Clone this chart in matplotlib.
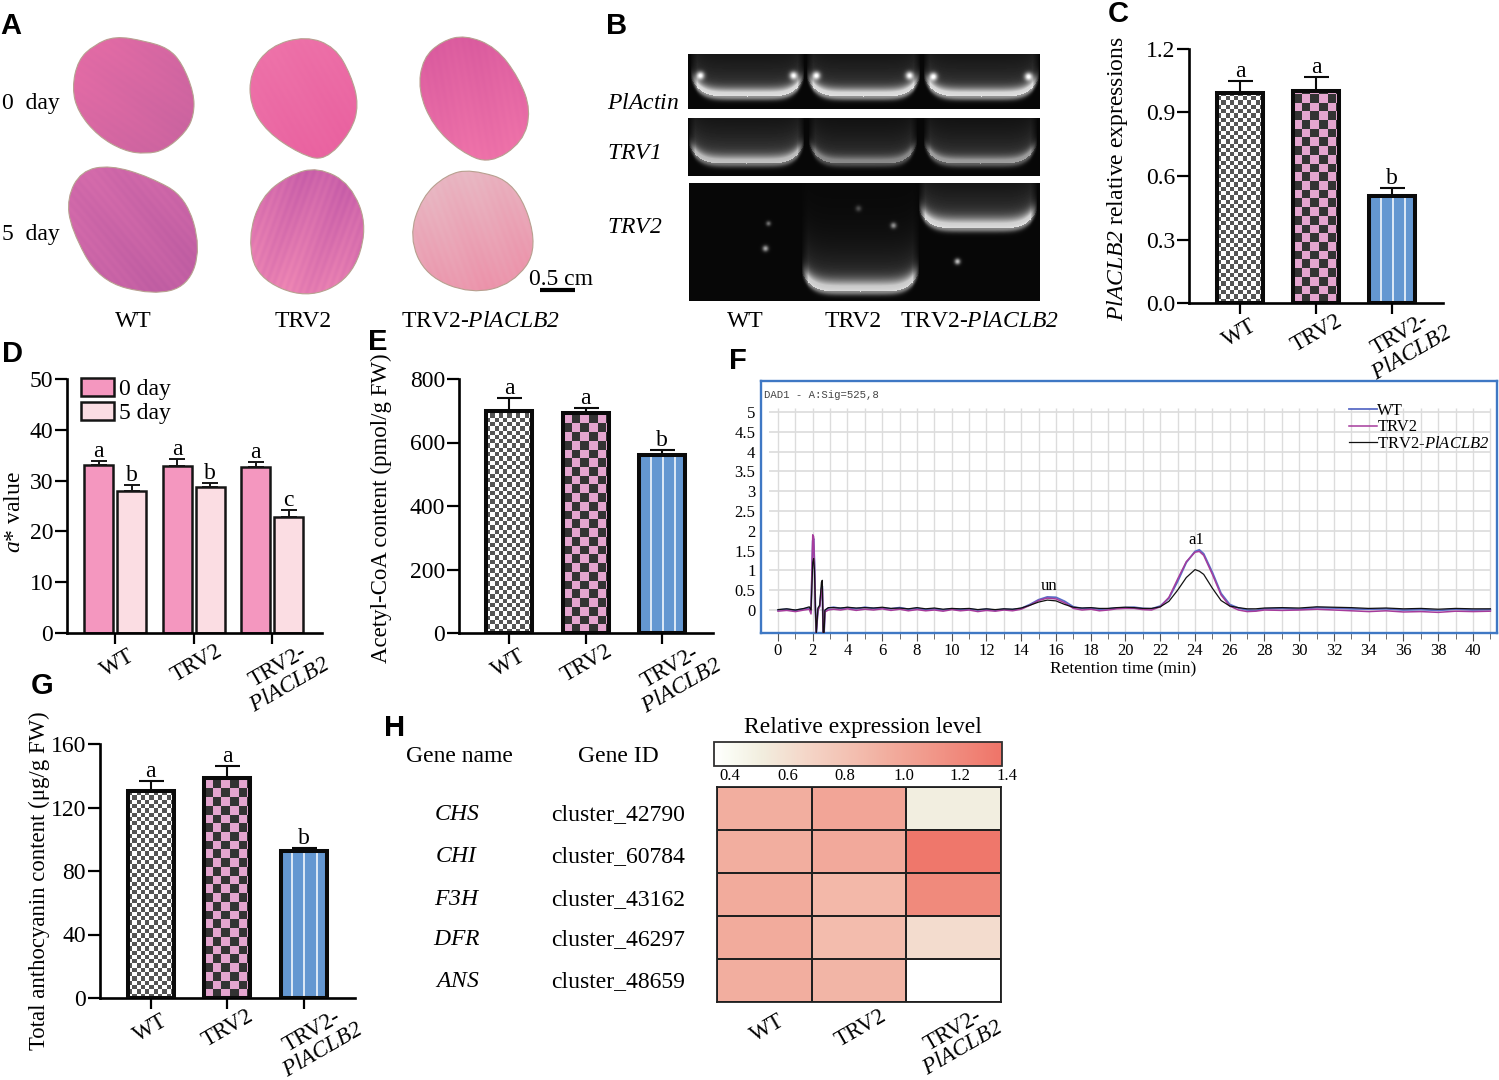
import numpy as np
import matplotlib
matplotlib.use('Agg')
import matplotlib.pyplot as plt
from matplotlib.colors import LinearSegmentedColormap
from matplotlib.patches import PathPatch
from matplotlib.path import Path

W, H = 1499, 1080

plt.rcParams['font.family'] = ['Liberation Serif', 'DejaVu Serif']
plt.rcParams['mathtext.fontset'] = 'custom'
plt.rcParams['mathtext.rm'] = 'Liberation Serif'
plt.rcParams['mathtext.it'] = 'Liberation Serif:italic'
plt.rcParams['mathtext.cal'] = 'Liberation Serif:italic'  # \mathcal keeps digits italic too
plt.rcParams['mathtext.default'] = 'regular'

# bar panels
groups = ['WT', 'TRV2', 'TRV2-\n$\\mathcal{PlACLB2}$']
mutant_name = 'TRV2-$\\mathcal{PlACLB2}$'
expr_values = [0.99, 1.0, 0.505]
expr_errors = [0.06, 0.07, 0.04]
expr_letters = ['a', 'a', 'b']
acetyl_values = [698, 693, 560]
acetyl_errors = [43, 15, 16]
acetyl_letters = ['a', 'a', 'b']
antho_values = [130.6, 138.6, 92.3]
antho_errors = [6.4, 7.7, 2.3]
antho_letters = ['a', 'a', 'b']
a_day0 = [33.0, 32.8, 32.7]
a_day0_err = [0.9, 1.4, 0.9]
a_day0_letters = ['a', 'a', 'a']
a_day5 = [28.0, 28.8, 22.8]
a_day5_err = [1.2, 0.8, 1.4]
a_day5_letters = ['b', 'b', 'c']

# chromatogram
rt = [0, 0.5, 1, 1.5, 1.8, 1.9, 2.0, 2.05, 2.1, 2.15, 2.2, 2.3, 2.4, 2.5, 2.55, 2.6, 2.65, 2.7, 2.9,
      3.2, 3.6, 4, 4.5, 5, 5.5, 6, 6.5, 7, 7.5, 8, 8.5, 9, 9.5, 10, 10.5, 11, 11.5, 12, 12.5, 13, 13.5,
      14, 14.5, 15, 15.5, 16, 16.5, 17, 17.5, 18, 18.5, 19, 19.5, 20, 20.5, 21, 21.5, 22, 22.5, 23,
      23.5, 24, 24.25, 24.5, 25, 25.5, 26, 26.5, 27, 27.5, 28, 29, 30, 31, 32, 33, 34, 35, 36, 37, 38,
      39, 40, 41]
wt_signal = [0.0, 0.02, -0.01, 0.03, 0.05, -0.05, 1.75, 1.8, 1.2, 0.1, -0.6, 0.02, 0.1, 0.55, 0.6, -0.6, -0.6, -0.02, 0.05,
             0.07, 0.04, 0.06, 0.03, 0.07, 0.04, 0.05, 0.03, 0.06, 0.02, 0.04, 0.01, 0.03, 0.0, 0.03, 0.01, 0.02, 0.0, 0.02, -0.01, 0.02, 0.01,
             0.04, 0.14, 0.26, 0.33, 0.32, 0.22, 0.08, 0.04, 0.05, 0.02, 0.03, 0.05, 0.06, 0.07, 0.04, 0.03, 0.1, 0.3, 0.72,
             1.2, 1.48, 1.52, 1.42, 0.95, 0.42, 0.14, 0.05, 0.0, -0.01, 0.03, 0.04, 0.02, 0.06, 0.05, 0.03, 0.02, 0.03, 0.0, 0.01, -0.01,
             0.02, 0.0, 0.01]
trv2_signal = [-0.03, -0.01, -0.04, 0.0, 0.02, -0.1, 1.9, 1.85, 1.1, 0.05, -0.6, 0.0, 0.08, 0.5, 0.55, -0.6, -0.6, -0.05, 0.0,
               0.02, 0.0, 0.03, -0.01, 0.02, 0.0, 0.03, -0.01, 0.02, -0.02, 0.01, -0.02, 0.0, -0.03, 0.01, -0.02, 0.0, -0.04, -0.01, -0.03, 0.0, -0.02,
               0.02, 0.12, 0.24, 0.3, 0.28, 0.18, 0.04, 0.0, 0.02, -0.02, 0.0, 0.03, 0.04, 0.04, 0.01, 0.0, 0.08, 0.32, 0.78,
               1.22, 1.46, 1.48, 1.38, 0.9, 0.38, 0.1, 0.0, -0.04, -0.03, 0.0, -0.01, 0.0, 0.02, 0.0, -0.02, -0.04, -0.02, -0.05, -0.04, -0.06,
               -0.03, -0.04, -0.03]
mutant_signal = [0.01, 0.03, 0.0, 0.04, 0.08, 0.0, 1.2, 1.3, 1.0, 0.1, -0.6, 0.05, 0.12, 0.7, 0.75, -0.6, -0.6, 0.0, 0.06,
                 0.06, 0.05, 0.07, 0.05, 0.06, 0.05, 0.07, 0.04, 0.05, 0.03, 0.06, 0.03, 0.05, 0.02, 0.04, 0.03, 0.04, 0.01, 0.03, 0.01, 0.03, 0.02,
                 0.05, 0.12, 0.2, 0.25, 0.23, 0.14, 0.07, 0.05, 0.06, 0.04, 0.04, 0.06, 0.07, 0.06, 0.04, 0.04, 0.08, 0.22, 0.5,
                 0.82, 1.02, 0.98, 0.9, 0.55, 0.24, 0.1, 0.06, 0.03, 0.03, 0.05, 0.06, 0.05, 0.08, 0.07, 0.06, 0.04, 0.05, 0.03, 0.04, 0.02,
                 0.04, 0.03, 0.03]
rt_labels = list(range(0, 41, 2))
signal_ticks = [0, 0.5, 1, 1.5, 2, 2.5, 3, 3.5, 4, 4.5, 5]
signal_labels = ['0', '0.5', '1', '1.5', '2', '2.5', '3', '3.5', '4', '4.5', '5']

# heatmap
genes = ['CHS', 'CHI', 'F3H', 'DFR', 'ANS']
gene_ids = ['cluster_42790', 'cluster_60784', 'cluster_43162', 'cluster_46297', 'cluster_48659']
heat_wt = [1.0, 1.0, 1.02, 1.02, 1.0]
heat_trv2 = [1.06, 1.03, 0.93, 0.9, 0.95]
heat_mutant = [0.56, 1.38, 1.25, 0.68, 0.4]
cbar_labels = ['0.4', '0.6', '0.8', '1.0', '1.2', '1.4']


def add_axes_px(left, right, top, bottom):
    return fig.add_axes([left / W, 1 - bottom / H, (right - left) / W, (bottom - top) / H])


def txt(x, y, s, size=17, **kw):
    kw.setdefault('ha', 'center')
    kw.setdefault('va', 'center')
    if 'rotation' not in kw:
        y = y + 1.5
    return fig.text(x / W, 1 - y / H, s, fontsize=size, **kw)


def smooth_outline(xs, ys):
    # closed quadratic curve through the midpoints of the hand read outline
    pts = np.column_stack([xs, ys])
    mids = (pts + np.roll(pts, -1, axis=0)) / 2
    verts = [mids[-1]]
    codes = [Path.MOVETO]
    for p, m in zip(pts, mids):
        verts += [p, m]
        codes += [Path.CURVE3, Path.CURVE3]
    return Path(verts, codes)


def petal(xs, ys, col_a, col_b, angle, stripe=0.04):
    x0, x1, y0, y1 = min(xs), max(xs), min(ys), max(ys)
    X, Y = np.meshgrid(np.arange(x0, x1 + 1), np.arange(y0, y1 + 1))
    a = np.radians(angle)
    u = (X - x0) / (x1 - x0) * np.cos(a) + (Y - y0) / (y1 - y0) * np.sin(a)
    v = -(X - x0) * np.sin(a) + (Y - y0) * np.cos(a)
    u = (u - u.min()) / (u.max() - u.min())
    u = u + stripe * np.sin(v / 1.1) + stripe * np.sin(v / 7.0)
    u = np.clip(u, 0, 1)[..., None]
    a_rgb = np.array(matplotlib.colors.to_rgb(col_a))
    b_rgb = np.array(matplotlib.colors.to_rgb(col_b))
    img = a_rgb * (1 - u) + b_rgb * u
    im = bg.imshow(img, extent=[x0, x1, y1, y0], aspect='auto', zorder=1)
    patch = PathPatch(smooth_outline(xs, ys), facecolor='none', edgecolor='#b8a090', lw=0.8, zorder=2)
    bg.add_patch(patch)
    im.set_clip_path(patch)


def gel_band(img, X, Y, x0, x1, yb, peak, sig, haze):
    c = (x0 + x1) / 2
    hw = (x1 - x0) / 2
    win = np.clip((hw - np.abs(X - c)) / 7 + 1, 0, 1)
    bottom = yb - 9 * np.abs((X - c) / hw) ** 6
    d = Y - bottom
    band = np.where(d > 0, np.exp(-(d / 4.0) ** 2), np.clip(1.3 * np.exp(-(d / sig) ** 2), 0, 1))
    glow = np.where(d > 0, 0, haze * np.exp(d / 26.0))
    img += win * (peak * band + glow)


def gel(left, right, top, bottom, lanes, spots):
    X, Y = np.meshgrid(np.arange(left, right), np.arange(top, bottom))
    img = np.full(X.shape, 0.03)
    for x0, x1, yb, peak, sig, haze in lanes:
        gel_band(img, X, Y, x0, x1, yb, peak, sig, haze)
    for sx, sy, sp, sr in spots:
        img += sp * np.exp(-((X - sx) ** 2 + (Y - sy) ** 2) / sr ** 2)
    bg.imshow(np.clip(img, 0, 1), cmap='gray', vmin=0, vmax=1, extent=[left, right, bottom, top],
              aspect='auto', zorder=1)


def cat_label(ax, i, text, dy, dx=0, size=16.5):
    ax.annotate(text, xy=(i, 0), xycoords=('data', 'axes fraction'), xytext=(dx, dy), textcoords='offset pixels',
                ha='center', va='center', rotation=30, fontsize=size, linespacing=1.05, annotation_clip=False)


def style_axes(ax, yticks, size=17):
    for s in ['top', 'right']:
        ax.spines[s].set_visible(False)
    ax.spines['left'].set_linewidth(1.9)
    ax.spines['bottom'].set_linewidth(1.9)
    ax.set_yticks(yticks)
    ax.tick_params(axis='y', length=9, width=1.6, labelsize=size, pad=1)
    ax.tick_params(axis='x', length=8, width=1.6, labelbottom=False)
    ax.set_xticks([0, 1, 2])
    ax.patch.set_alpha(0)


def pattern_bar(ax, bar, kind, px_per_x, px_per_y):
    x = bar.get_x()
    w = bar.get_width()
    h = bar.get_height()
    if kind == 'stripe':
        ax.bar(x + w / 2, h, width=w, color='#6497d1', zorder=1)
        ax.vlines([x + w * 0.26, x + w * 0.52, x + w * 0.79], 0, h, color='white', lw=1.1, zorder=2)
        return
    cell, light, dark = (4.3, '#ffffff', '#555555') if kind == 'fine' else (8.7, '#e4a5cf', '#333333')
    nx, ny = int(np.ceil(w * px_per_x / cell)), int(np.ceil(h * px_per_y / cell))
    jj, ii = np.meshgrid(np.arange(nx), np.arange(ny))
    rgb = np.where(((ii + jj) % 2)[..., None] == 0, matplotlib.colors.to_rgb(light), matplotlib.colors.to_rgb(dark))
    im = ax.imshow(rgb, extent=[x, x + nx * cell / px_per_x, 0, ny * cell / px_per_y], origin='lower', aspect='auto',
                   interpolation='nearest', zorder=1)
    im.set_clip_path(bar)


def single_panel(left, right, top, bottom, x_first, spacing, ymax, yticks, ticklabels, values, errors, letters, third_dy):
    ax = add_axes_px(left, right, top, bottom)
    ax.set_ylim(0, ymax)
    xlim = ((left - x_first) / spacing, (right - x_first) / spacing)
    bars = ax.bar([0, 1, 2], values, width=46 / spacing, facecolor='none', edgecolor='#0a0a0a', linewidth=2.9, zorder=3)
    ax.errorbar([0, 1, 2], values, yerr=[[0, 0, 0], errors], fmt='none', ecolor='#0a0a0a', elinewidth=1.5,
                capsize=9, capthick=1.5, zorder=2)
    ppy = (bottom - top) / ymax
    for bar, kind in zip(bars, ['fine', 'coarse', 'stripe']):
        pattern_bar(ax, bar, kind, spacing, ppy)
    ax.set_xlim(*xlim)
    ax.set_ylim(0, ymax)
    style_axes(ax, yticks)
    ax.set_yticklabels(ticklabels)
    for i, (v, e, l) in enumerate(zip(values, errors, letters)):
        ax.annotate(l, xy=(i, v + e), xytext=(0, -1), textcoords='offset pixels', ha='center', va='bottom', fontsize=17)
    cat_label(ax, 0, groups[0], -30)
    cat_label(ax, 1, groups[1], -30, dx=1)
    cat_label(ax, 2, groups[2], third_dy, dx=14)
    return ax


fig = plt.figure(figsize=(W / 100, H / 100), dpi=100, facecolor='white')

# background layer in image pixels for the photos and gels
bg = fig.add_axes([0, 0, 1, 1], zorder=-1)
bg.set_xlim(0, W)
bg.set_ylim(H, 0)
bg.axis('off')

# panel A petals
petal([115, 145, 168, 182, 194, 194, 186, 165, 146, 124, 98, 78, 72, 78, 94],
      [36, 41, 48, 63, 93, 115, 132, 150, 154, 151, 136, 112, 88, 60, 45],
      '#e56ca6', '#c9639f', 35)
petal([306, 335, 351, 359, 351, 325, 300, 267, 250, 250, 270],
      [36, 47, 75, 105, 132, 161, 154, 132, 105, 73, 46],
      '#ee74aa', '#e9609f', 60)
petal([465, 496, 519, 531, 523, 490, 461, 433, 418, 423, 442],
      [35, 47, 78, 110, 142, 164, 152, 126, 90, 58, 41],
      '#d95a9e', '#f074aa', 80)
petal([110, 150, 186, 201, 188, 153, 99, 71, 67, 81],
      [165, 177, 197, 248, 286, 295, 281, 229, 198, 171],
      '#d46bab', '#bf5da2', 50, stripe=0.1)
petal([318, 351, 368, 351, 306, 257, 248, 261, 289],
      [167, 184, 228, 279, 299, 278, 238, 197, 175],
      '#c65ca8', '#ee86b4', 110, stripe=0.08)
petal([471, 517, 539, 513, 471, 426, 409, 422, 446],
      [169, 183, 248, 284, 294, 276, 237, 197, 175],
      '#e8bcc6', '#ec8fa8', 70, stripe=0.04)
txt(2, 102, '0  day', ha='left')
txt(2, 233, '5  day', ha='left')
txt(133, 320, 'WT')
txt(303, 320, 'TRV2')
txt(480, 320, mutant_name)
txt(561, 278, '0.5 cm')
bg.plot([540, 575], [290, 290], color='black', lw=3, solid_capstyle='butt', zorder=3)

# panel B gels
gel(688, 1040, 54, 109,
    [(697, 797, 96, 0.55, 8, 0.3), (813, 913, 96, 0.55, 8, 0.3), (930, 1032, 96, 0.55, 8, 0.3)],
    [(700, 75, 0.8, 4), (793, 75, 0.8, 4), (816, 75, 0.8, 4), (909, 75, 0.8, 4), (933, 76, 0.8, 4), (1028, 76, 0.8, 4)])
gel(688, 1040, 118, 176,
    [(695, 797, 163, 0.42, 8, 0.32), (815, 910, 163, 0.28, 7, 0.24), (930, 1030, 163, 0.34, 7, 0.26)], [])
gel(689, 1040, 183, 301,
    [(808, 912, 291, 0.5, 11, 0.32), (925, 1030, 228, 0.5, 10, 0.34)],
    [(768, 223, 0.4, 2.5), (765, 248, 0.6, 3), (858, 208, 0.25, 3), (893, 225, 0.5, 3), (957, 261, 0.7, 3)])
txt(607, 102, '$\\mathcal{PlActin}$', ha='left')
txt(607, 152, '$\\mathcal{TRV1}$', ha='left')
txt(607, 226, '$\\mathcal{TRV2}$', ha='left')
txt(745, 320, 'WT')
txt(853, 320, 'TRV2')
txt(979, 320, mutant_name)

# panel C
ax_c = single_panel(1189, 1443, 49, 303, 1240, 76, 1.2, [0, 0.3, 0.6, 0.9, 1.2],
                    ['0.0', '0.3', '0.6', '0.9', '1.2'], expr_values, expr_errors, expr_letters, -41)
txt(1118, 179, '$\\mathcal{PlACLB2}$ relative expressions', rotation=90)

# panel E
ax_e = single_panel(459, 713, 379, 633, 509, 76.5, 800, [0, 200, 400, 600, 800],
                    ['0', '200', '400', '600', '800'], acetyl_values, acetyl_errors, acetyl_letters, -44)
txt(381, 508, 'Acetyl-CoA content (pmol/g FW)', size=16.5, rotation=90)

# panel G
ax_g = single_panel(100, 355, 744, 998, 150.5, 76.5, 160, [0, 40, 80, 120, 160],
                    ['0', '40', '80', '120', '160'], antho_values, antho_errors, antho_letters, -43)
txt(39, 881, 'Total anthocyanin content (\u03bcg/g FW)', size=16.4, rotation=90)

# panel D
ax_d = add_axes_px(67, 322, 379, 633)
x_pos = np.arange(3)
bar_w = 29 / 78.5
off = 16.5 / 78.5
bars0 = ax_d.bar(x_pos - off, a_day0, width=bar_w, color='#f497bf', edgecolor='#151515', linewidth=1.8, label='0 day')
bars5 = ax_d.bar(x_pos + off, a_day5, width=bar_w, color='#fbdde3', edgecolor='#151515', linewidth=1.8, label='5 day')
ax_d.errorbar(x_pos - off, a_day0, yerr=[[0, 0, 0], a_day0_err], fmt='none', ecolor='#151515', elinewidth=1.4,
              capsize=5.5, capthick=1.4)
ax_d.errorbar(x_pos + off, a_day5, yerr=[[0, 0, 0], a_day5_err], fmt='none', ecolor='#151515', elinewidth=1.4,
              capsize=5.5, capthick=1.4)
for i in range(3):
    ax_d.annotate(a_day0_letters[i], xy=(i - off, a_day0[i] + a_day0_err[i]), xytext=(0, -1), textcoords='offset pixels',
                  ha='center', va='bottom', fontsize=17)
    ax_d.annotate(a_day5_letters[i], xy=(i + off, a_day5[i] + a_day5_err[i]), xytext=(0, -1), textcoords='offset pixels',
                  ha='center', va='bottom', fontsize=17)
ax_d.set_xlim((67 - 115) / 78.5, (322 - 115) / 78.5)
ax_d.set_ylim(0, 50)
style_axes(ax_d, [0, 10, 20, 30, 40, 50])
ax_d.legend(handles=[bars0, bars5], loc='upper left', bbox_to_anchor=(81 / W, 1 - 378 / H), bbox_transform=fig.transFigure,
            frameon=False, fontsize=17, handlelength=1.4, handleheight=0.8, labelspacing=0.08, handletextpad=0.2,
            borderpad=0, borderaxespad=0)
cat_label(ax_d, 0, groups[0], -30, dx=3)
cat_label(ax_d, 1, groups[1], -30, dx=3)
cat_label(ax_d, 2, groups[2], -43, dx=12)
txt(14, 512, '$\\mathit{a}$* value', rotation=90)

# panel F
ax_f = add_axes_px(761, 1497, 381, 633)
ax_f.set_xlim((761 - 778) / 17.375, (1497 - 778) / 17.375)
ax_f.set_ylim((610 - 633) / 39.6, (610 - 381) / 39.6)
ax_f.vlines(np.arange(0, 42), -0.58, 5.1, color='#dcdcdc', lw=1.0, zorder=1)
ax_f.hlines(signal_ticks, -0.5, 41, color='#dcdcdc', lw=1.2, zorder=1)
ax_f.plot(rt, wt_signal, color='#5a6cc6', lw=1.3, label='WT', zorder=3)
ax_f.plot(rt, trv2_signal, color='#a63c9c', lw=1.1, label='TRV2', zorder=3)
ax_f.plot(rt, mutant_signal, color='#111111', lw=0.9, label=mutant_name, zorder=4)
for s in ax_f.spines.values():
    s.set_color('#3f78c4')
    s.set_linewidth(1.7)
ax_f.set_xticks(rt_labels)
ax_f.set_xticklabels([str(v) for v in rt_labels])
ax_f.set_xticks(np.arange(0, 42), minor=True)
ax_f.tick_params(axis='x', which='major', length=6, width=0.8, labelsize=12, pad=1, color='#555555')
ax_f.tick_params(axis='x', which='minor', length=4, width=0.6, color='#555555')
ax_f.set_yticks(signal_ticks)
ax_f.set_yticklabels(signal_labels)
ax_f.tick_params(axis='y', length=0, labelsize=12, pad=4)
ax_f.legend(loc='upper left', bbox_to_anchor=(1349 / W, 1 - 403 / H), bbox_transform=fig.transFigure, frameon=False,
            fontsize=12, handlelength=1.7, labelspacing=0.02, handletextpad=0, borderpad=0, borderaxespad=0)
ax_f.text(0.004, 0.945, 'DAD1 - A:Sig=525,8', transform=ax_f.transAxes, family='Liberation Mono', fontsize=7.7,
          color='#444444', va='center')
ax_f.annotate('un', xy=(15.6, 0.35), xytext=(0, 2), textcoords='offset pixels', ha='center', va='bottom', fontsize=12)
ax_f.annotate('a1', xy=(24.1, 1.52), xytext=(0, 2), textcoords='offset pixels', ha='center', va='bottom', fontsize=12)
txt(1123, 668, 'Retention time (min)', 12.5)

# panel H
heat_cmap = LinearSegmentedColormap.from_list('heat', [(0, '#ffffff'), (0.05, '#fafcf4'), (0.16, '#f2eedf'), (0.32, '#f4d6c8'),
                                                       (0.6, '#f2ae9f'), (1, '#ef7468')])
ax_h = add_axes_px(717, 1001, 787, 1002)
heat = np.array([heat_wt, heat_trv2, heat_mutant]).T
mesh = ax_h.pcolormesh(heat, cmap=heat_cmap, vmin=0.4, vmax=1.4, edgecolors='#202020', linewidth=1.3)
ax_h.invert_yaxis()
ax_h.set_xticks([])
ax_h.set_yticks([])
for s in ax_h.spines.values():
    s.set_linewidth(1.3)
    s.set_color('#202020')
for i, (dx, dy) in enumerate([(-91, -26), (2, -26), (99, -37)]):
    ax_h.annotate(groups[i], xy=(1.5, 0), xycoords=('data', 'axes fraction'), xytext=(dx, dy), textcoords='offset pixels',
                  ha='center', va='center', rotation=30, fontsize=16.5, linespacing=0.95, annotation_clip=False)

cax = add_axes_px(714, 1002, 742, 766)
cbar = fig.colorbar(mesh, cax=cax, orientation='horizontal')
cbar.set_ticks([])
cbar.outline.set_linewidth(1.3)
cbar.outline.set_edgecolor('#303030')
for xp, lab in zip([730, 788, 845, 904, 960, 1007], cbar_labels):
    txt(xp, 775, lab, 12)
txt(863, 726, 'Relative expression level')
txt(459, 755, 'Gene name')
txt(618, 755, 'Gene ID')
for gene, gene_id, yp in zip(genes, gene_ids, [813, 855, 898, 938, 980]):
    txt(457, yp, '$\\mathcal{' + gene + '}$')
    txt(618, yp, gene_id)

# panel letters
for lab, xp, yp in [('A', 11, 24), ('B', 617, 24), ('C', 1118, 13), ('D', 12, 352), ('E', 378, 340),
                    ('F', 738, 359), ('G', 42, 685), ('H', 395, 726)]:
    txt(xp, yp, lab, 21, family='Liberation Sans', weight='bold')

fig.savefig('out.png', dpi=100)
